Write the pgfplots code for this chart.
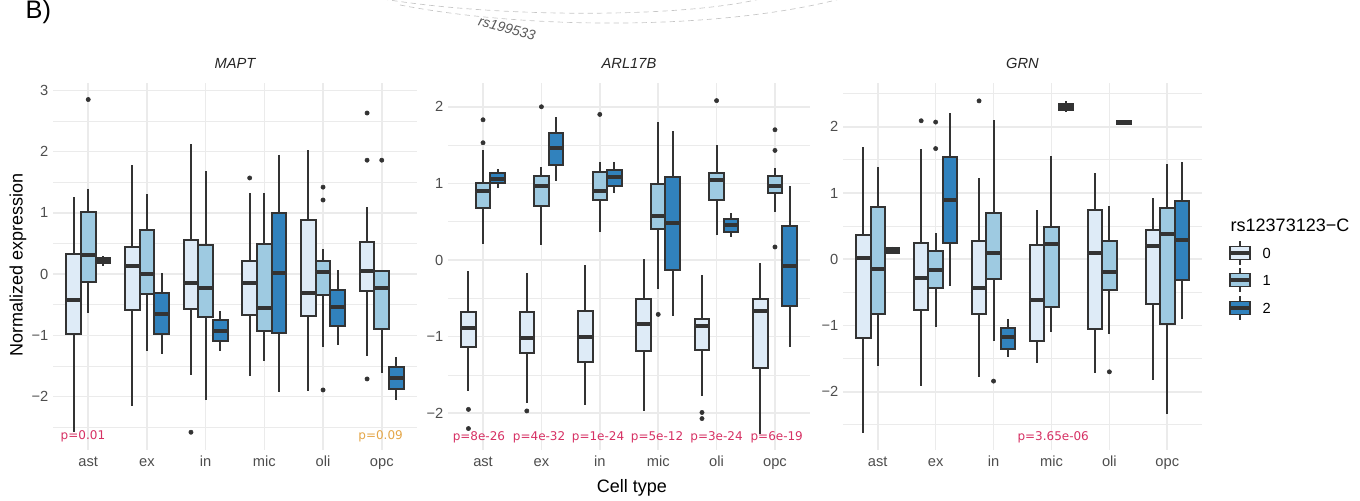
\documentclass[border=0pt]{standalone}
\usepackage{fontspec}
\setmainfont{Liberation Sans}
\newfontfamily\pfont{DejaVu Sans}
\usepackage{pgfplots}
\pgfplotsset{compat=1.18}
\usepgfplotslibrary{statistics}

\definecolor{gA}{HTML}{DEEBF7}
\definecolor{gB}{HTML}{9ECAE1}
\definecolor{gC}{HTML}{3182BD}
\definecolor{boxline}{HTML}{333333}
\definecolor{gridc}{HTML}{EBEBEB}
\definecolor{tickc}{HTML}{4D4D4D}
\definecolor{pred}{RGB}{214,48,99}
\definecolor{porange}{RGB}{228,166,72}

% one box: position, lower whisker, Q1, median, Q3, upper whisker, fill
\newcommand{\bx}[7]{%
  \addplot[boxplot prepared={draw direction=y, draw position=#1, lower whisker=#2,
    lower quartile=#3, median=#4, upper quartile=#5, upper whisker=#6,
    box extend=0.25, whisker extend=0},
    draw=boxline, fill=#7, line width=1.5pt] coordinates {};}

\pgfplotsset{
  facet/.style={
    scale only axis, height=275.25pt, anchor=south west,
    xmin=0.4, xmax=6.6, xtick={1,...,6}, xticklabels={ast,ex,in,mic,oli,opc},
    axis line style={draw=none}, major tick length=0pt, minor tick length=0pt,
    xmajorgrids=true, ymajorgrids=true, yminorgrids=true,
    major grid style={gridc, line width=1.2pt},
    minor grid style={gridc, line width=0.6pt},
    tick label style={font=\fontsize{11}{13}\selectfont, text=tickc},
    xticklabel style={text height=8pt, text depth=2.5pt, yshift=-1pt},
    title style={at={(0.5,1)}, anchor=center, yshift=8.5pt,
      font=\fontsize{11}{13}\selectfont\itshape, text=black!85},
    boxplot/every median/.style={line width=3pt},
    clip=false,
  },
  out/.style={only marks, mark=*, mark size=1.6pt, draw=boxline, fill=boxline},
}
\tikzset{plab/.style={font=\pfont\fontsize{9}{11}\selectfont, text=pred}}

\newcommand{\lkey}[3]{%
  \draw[boxline, line width=1.2pt] (1240,#1-12) -- (1240,#1+12);
  \draw[boxline, line width=1.2pt, fill=#2] (1230,#1-6.5) rectangle (1250,#1+6.5);
  \draw[boxline, line width=2.4pt] (1230,#1) -- (1250,#1);
  \node[anchor=west, font=\fontsize{11}{13}\selectfont] at (1258,#1) {#3};}

\begin{document}
\begin{tikzpicture}
\useasboundingbox (0,0) rectangle (1020pt,375pt);

% MAPT
\begin{axis}[facet, at={(39.75pt,37.5pt)}, width=273pt,
  ymin=-2.87, ymax=3.12, ytick={-2,...,3}, yticklabels={−2,−1,0,1,2,3},
  minor ytick={-2.5,-1.5,...,2.5}, title={MAPT}]
\bx{0.75}{-2.58}{-0.98}{-0.42}{0.33}{1.26}{gA}
\bx{1.00}{-0.63}{-0.12}{0.31}{1.01}{1.39}{gB}
\bx{1.25}{0.13}{0.18}{0.22}{0.26}{0.30}{gC}
\bx{1.75}{-2.15}{-0.59}{0.13}{0.44}{1.78}{gA}
\bx{2.00}{-1.26}{-0.33}{0.00}{0.72}{1.31}{gB}
\bx{2.25}{-1.30}{-0.97}{-0.65}{-0.30}{0.02}{gC}
\bx{2.75}{-1.64}{-0.57}{-0.15}{0.56}{2.12}{gA}
\bx{3.00}{-2.06}{-0.70}{-0.23}{0.48}{1.68}{gB}
\bx{3.25}{-1.25}{-1.09}{-0.92}{-0.75}{-0.60}{gC}
\bx{3.75}{-1.67}{-0.66}{-0.14}{0.22}{1.33}{gA}
\bx{4.00}{-1.42}{-0.92}{-0.56}{0.50}{1.33}{gB}
\bx{4.25}{-1.93}{-0.96}{0.02}{0.99}{1.95}{gC}
\bx{4.75}{-1.90}{-0.68}{-0.30}{0.89}{2.02}{gA}
\bx{5.00}{-1.19}{-0.34}{0.04}{0.22}{0.41}{gB}
\bx{5.25}{-1.15}{-0.85}{-0.54}{-0.26}{0.06}{gC}
\bx{5.75}{-1.34}{-0.27}{0.05}{0.53}{1.09}{gA}
\bx{6.00}{-1.62}{-0.90}{-0.22}{0.05}{0.06}{gB}
\bx{6.25}{-2.06}{-1.88}{-1.70}{-1.51}{-1.35}{gC}
\addplot[out] coordinates {(1.00,2.85) (2.75,-2.58) (3.75,1.57)
  (5.00,1.42) (5.00,1.21) (5.00,-1.89) (5.75,2.63) (5.75,1.86) (5.75,-1.71) (6.00,1.86)};
\node[plab] at (axis cs:0.91,-2.65) {p=0.01};
\node[plab, text=porange] at (axis cs:5.98,-2.65) {p=0.09};
\end{axis}

% ARL17B
\begin{axis}[facet, at={(336pt,37.5pt)}, width=271.5pt,
  ymin=-2.48, ymax=2.31, ytick={-2,...,2}, yticklabels={−2,−1,0,1,2},
  minor ytick={-1.5,-0.5,...,1.5}, title={ARL17B}]
\bx{0.75}{-1.71}{-1.14}{-0.89}{-0.68}{-0.15}{gA}
\bx{1.00}{0.21}{0.68}{0.90}{1.01}{1.43}{gB}
\bx{1.25}{0.94}{1.00}{1.06}{1.13}{1.19}{gC}
\bx{1.75}{-1.87}{-1.21}{-1.02}{-0.68}{-0.17}{gA}
\bx{2.00}{0.20}{0.70}{0.97}{1.10}{1.21}{gB}
\bx{2.25}{1.03}{1.24}{1.46}{1.66}{1.86}{gC}
\bx{2.75}{-1.89}{-1.33}{-1.00}{-0.66}{-0.06}{gA}
\bx{3.00}{0.36}{0.78}{0.90}{1.15}{1.28}{gB}
\bx{3.25}{0.87}{0.97}{1.08}{1.18}{1.28}{gC}
\bx{3.75}{-1.97}{-1.19}{-0.83}{-0.51}{0.01}{gA}
\bx{4.00}{-0.38}{0.41}{0.57}{0.99}{1.80}{gB}
\bx{4.25}{-0.73}{-0.13}{0.48}{1.08}{1.68}{gC}
\bx{4.75}{-1.78}{-1.18}{-0.86}{-0.77}{-0.20}{gA}
\bx{5.00}{0.32}{0.78}{1.04}{1.14}{1.50}{gB}
\bx{5.25}{0.30}{0.36}{0.46}{0.53}{0.61}{gC}
\bx{5.75}{-2.27}{-1.41}{-0.67}{-0.51}{-0.04}{gA}
\bx{6.00}{0.63}{0.87}{0.97}{1.09}{1.20}{gB}
\bx{6.25}{-1.13}{-0.60}{-0.08}{0.45}{0.97}{gC}
\addplot[out] coordinates {(0.75,-1.95) (0.75,-2.20) (1.00,1.83) (1.00,1.53)
  (1.75,-1.97) (2.00,2.00) (3.00,1.90) (4.00,-0.71) (4.75,-1.99) (4.75,-2.07)
  (5.00,2.08) (6.00,1.70) (6.00,1.43) (6.00,0.17)};
\node[plab] at (axis cs:0.93,-2.31) {p=8e-26};
\node[plab] at (axis cs:1.96,-2.31) {p=4e-32};
\node[plab] at (axis cs:2.97,-2.31) {p=1e-24};
\node[plab] at (axis cs:3.98,-2.31) {p=5e-12};
\node[plab] at (axis cs:5.00,-2.31) {p=3e-24};
\node[plab] at (axis cs:6.03,-2.31) {p=6e-19};
\end{axis}

% GRN
\begin{axis}[facet, at={(632.25pt,37.5pt)}, width=269.25pt,
  ymin=-2.88, ymax=2.66, ytick={-2,...,2}, yticklabels={−2,−1,0,1,2},
  minor ytick={-2.5,-1.5,...,2.5}, title={GRN}]
\bx{0.75}{-2.62}{-1.19}{0.02}{0.37}{1.69}{gA}
\bx{1.00}{-1.61}{-0.82}{-0.15}{0.79}{1.39}{gB}
\bx{1.25}{0.08}{0.10}{0.14}{0.17}{0.19}{gC}
\bx{1.75}{-1.92}{-0.77}{-0.29}{0.24}{1.67}{gA}
\bx{2.00}{-1.02}{-0.44}{-0.17}{0.13}{0.39}{gB}
\bx{2.25}{-0.40}{0.25}{0.89}{1.55}{2.20}{gC}
\bx{2.75}{-1.78}{-0.82}{-0.44}{0.28}{1.22}{gA}
\bx{3.00}{-1.23}{-0.30}{0.09}{0.70}{2.10}{gB}
\bx{3.25}{-1.48}{-1.35}{-1.18}{-1.04}{-0.90}{gC}
\bx{3.75}{-1.57}{-1.24}{-0.62}{0.21}{0.75}{gA}
\bx{4.00}{-1.10}{-0.72}{0.23}{0.48}{1.56}{gB}
\bx{4.25}{2.22}{2.25}{2.30}{2.35}{2.39}{gC}
\bx{4.75}{-1.72}{-1.05}{0.09}{0.74}{1.30}{gA}
\bx{5.00}{-1.13}{-0.47}{-0.19}{0.27}{0.81}{gB}
\bx{5.25}{2.03}{2.04}{2.07}{2.09}{2.10}{gC}
\bx{5.75}{-1.83}{-0.68}{0.20}{0.44}{0.92}{gA}
\bx{6.00}{-2.34}{-0.98}{0.38}{0.78}{1.43}{gB}
\bx{6.25}{-0.90}{-0.31}{0.29}{0.88}{1.47}{gC}
\addplot[out] coordinates {(1.75,2.09) (2.00,2.07) (2.00,1.67) (2.75,2.39)
  (3.00,-1.84) (5.00,-1.70)};
\node[plab] at (axis cs:4.03,-2.69) {p=3.65e-06};
\end{axis}

\begin{scope}[x=0.75pt, y=0.75pt]
  % remnants of the figure above
  \draw[gray!45, line width=0.5pt, dash pattern=on 4pt off 3pt]
    (400,495) .. controls (530,470) and (720,470) .. (840,501);
  \draw[gray!45, line width=0.5pt, dash pattern=on 4pt off 3pt]
    (383,501) .. controls (500,482) and (680,482) .. (760,501);
  \node[rotate=-15, text=black!65, font=\fontsize{10.5}{12}\selectfont\itshape] at (507,472) {rs199533};
  \node[anchor=base west, font=\fontsize{19}{22}\selectfont] at (21,481) {B)};
  % axis titles
  \node[rotate=90, font=\fontsize{13.5}{15}\selectfont] at (18,235) {Normalized expression};
  \node[font=\fontsize{13.5}{15}\selectfont] at (632,12) {Cell type};
  % legend
  \node[anchor=west, font=\fontsize{13.5}{15}\selectfont] at (1226,275) {rs12373123−C};
  \lkey{247}{gA}{0}
  \lkey{220}{gB}{1}
  \lkey{192}{gC}{2}
\end{scope}
\end{tikzpicture}
\end{document}
